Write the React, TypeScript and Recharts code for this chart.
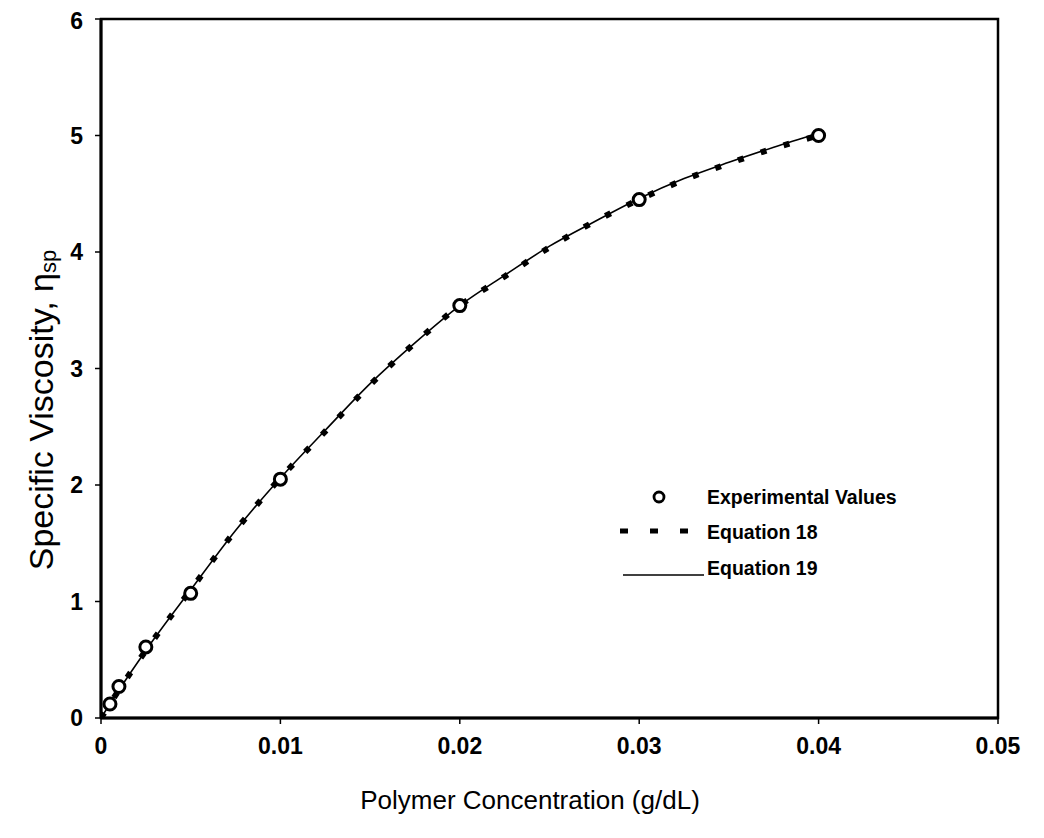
import React from "react";
import {
  ComposedChart,
  Line,
  Scatter,
  XAxis,
  YAxis,
  ReferenceArea,
} from "recharts";

// Experimental values
const expX = [0.0005, 0.001, 0.0025, 0.005, 0.01, 0.02, 0.03, 0.04];
const expY = [0.12, 0.27, 0.61, 1.07, 2.05, 3.54, 4.45, 5.0];

// Fitted curves
const curveX = [0, 0.001, 0.0025, 0.005, 0.0075, 0.01, 0.0125, 0.015, 0.0175, 0.02, 0.0225, 0.025, 0.0275, 0.03, 0.0325, 0.035, 0.0375, 0.04];
const eq18Y = [0, 0.24, 0.58, 1.1, 1.61, 2.06, 2.46, 2.86, 3.22, 3.54, 3.79, 4.04, 4.26, 4.45, 4.62, 4.76, 4.89, 5.0];
const eq19Y = [0, 0.24, 0.58, 1.1, 1.61, 2.06, 2.47, 2.87, 3.22, 3.54, 3.8, 4.05, 4.26, 4.46, 4.63, 4.77, 4.9, 5.02];

const xTicks = [0, 0.01, 0.02, 0.03, 0.04, 0.05];
const yTicks = [0, 1, 2, 3, 4, 5, 6];

const legendLabels = ["Experimental Values", "Equation 18", "Equation 19"];
const xTitle = "Polymer Concentration (g/dL)";
const yTitle = "Specific Viscosity, η";
const ySub = "sp";

const expData = expX.map((x, i) => ({ x, y: expY[i] }));
const eq18Data = curveX.map((x, i) => ({ x, y: eq18Y[i] }));
const eq19Data = curveX.map((x, i) => ({ x, y: eq19Y[i] }));

const FONT = "'Liberation Sans', Arial, sans-serif";

const OpenCircle = (props: any) => {
  const { cx, cy } = props;
  if (cx == null || cy == null) return null;
  return <circle cx={cx} cy={cy} r={6} fill="#fff" stroke="#000" strokeWidth={3} />;
};

const LegendBox = () => (
  <svg width={320} height={110} style={{ overflow: "visible", display: "block" }}>
    <circle cx={51} cy={12} r={5} fill="#fff" stroke="#000" strokeWidth={2.8} />
    <text x={99} y={12} dy="0.35em" fontFamily={FONT} fontSize={19.5} fontWeight="bold" fill="#000">
      {legendLabels[0]}
    </text>
    <line x1={12} y1={46} x2={82} y2={46} stroke="#000" strokeWidth={5} strokeDasharray="8 22" />
    <text x={99} y={47} dy="0.35em" fontFamily={FONT} fontSize={19.5} fontWeight="bold" fill="#000">
      {legendLabels[1]}
    </text>
    <line x1={15} y1={90} x2={96} y2={90} stroke="#000" strokeWidth={1.3} />
    <text x={99} y={83} dy="0.35em" fontFamily={FONT} fontSize={19.5} fontWeight="bold" fill="#000">
      {legendLabels[2]}
    </text>
  </svg>
);

const YTitle = () => {
  const cx = 33;
  const cy = 402;
  return (
    <text
      x={cx}
      y={cy}
      transform={`rotate(-90, ${cx}, ${cy})`}
      textAnchor="middle"
      dominantBaseline="central"
      fontFamily={FONT}
      fontSize={34}
      fill="#000"
    >
      {yTitle}
      <tspan fontSize={22} dy={7}>{ySub}</tspan>
    </text>
  );
};

const XTitle = () => (
  <text
    x={522}
    y={792}
    textAnchor="middle"
    dominantBaseline="central"
    fontFamily={FONT}
    fontSize={26}
    fill="#000"
  >
    {xTitle}
  </text>
);

export default function App() {
  return (
    <div style={{ position: "relative", width: 1030, height: 822, background: "#fff" }}>
      <ComposedChart
        width={1030}
        height={822}
        margin={{ top: 11, right: 40, left: 0, bottom: 0 }}
      >
        <XAxis
          dataKey="x"
          type="number"
          domain={[0, 0.05]}
          ticks={xTicks}
          tickFormatter={(v: number) => (v === 0 ? "0" : v.toFixed(2))}
          height={112}
          axisLine={{ stroke: "#000", strokeWidth: 3 }}
          tickLine={{ stroke: "#000", strokeWidth: 1.5 }}
          tickSize={6}
          tick={{ fill: "#000", fontSize: 23, fontWeight: "bold", fontFamily: FONT, dy: 12 }}
          allowDataOverflow
          label={{ content: <XTitle /> }}
        />
        <YAxis
          dataKey="y"
          type="number"
          domain={[0, 6]}
          ticks={yTicks}
          width={93}
          axisLine={{ stroke: "#000", strokeWidth: 3 }}
          tickLine={{ stroke: "#000", strokeWidth: 1.5 }}
          tickSize={6}
          tick={{ fill: "#000", fontSize: 23, fontWeight: "bold", fontFamily: FONT, dx: -10 }}
          allowDataOverflow
          label={{ content: <YTitle /> }}
        />
        <ReferenceArea
          x1={0}
          x2={0.05}
          y1={0}
          y2={6}
          fill="none"
          fillOpacity={0}
          stroke="#000"
          strokeWidth={2.5}
          ifOverflow="visible"
        />
        <Line
          data={eq18Data}
          dataKey="y"
          type="monotone"
          stroke="#000"
          strokeWidth={6}
          strokeDasharray="6 18"
          dot={false}
          isAnimationActive={false}
          legendType="none"
        />
        <Line
          data={eq19Data}
          dataKey="y"
          type="monotone"
          stroke="#000"
          strokeWidth={1.6}
          dot={false}
          isAnimationActive={false}
          legendType="none"
        />
        <Scatter
          data={expData}
          dataKey="y"
          shape={<OpenCircle />}
          isAnimationActive={false}
          legendType="none"
        />
      </ComposedChart>
      <div style={{ position: "absolute", left: 600, top: 477 }}>
        <LegendBox />
      </div>
    </div>
  );
}
